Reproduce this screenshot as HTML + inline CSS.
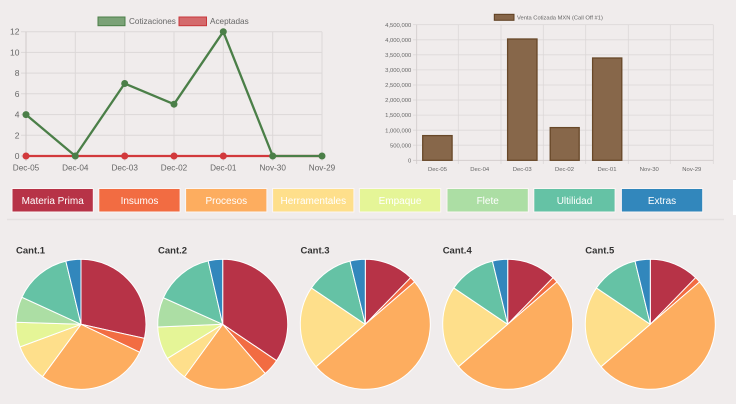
<!DOCTYPE html>
<html>
<head>
<meta charset="utf-8">
<style>
  html,body{margin:0;padding:0;background:#f0ecec;}
  body{width:736px;height:404px;overflow:hidden;}
  svg{display:block;font-family:"Liberation Sans",sans-serif;}
</style>
</head>
<body>
<svg width="736" height="404" viewBox="0 0 736 404" xmlns="http://www.w3.org/2000/svg">
  <rect width="736" height="404" fill="#f0ecec"/>

  <!-- ============ LINE CHART ============ -->
  <g stroke="#dcd8d8" stroke-width="1" fill="none">
    <line x1="21" y1="31.7" x2="322" y2="31.7"/>
    <line x1="21" y1="52.4" x2="322" y2="52.4"/>
    <line x1="21" y1="73.1" x2="322" y2="73.1"/>
    <line x1="21" y1="93.8" x2="322" y2="93.8"/>
    <line x1="21" y1="114.6" x2="322" y2="114.6"/>
    <line x1="21" y1="135.3" x2="322" y2="135.3"/>
    <line x1="75.3" y1="31.7" x2="75.3" y2="161"/>
    <line x1="124.7" y1="31.7" x2="124.7" y2="161"/>
    <line x1="174" y1="31.7" x2="174" y2="161"/>
    <line x1="223.3" y1="31.7" x2="223.3" y2="161"/>
    <line x1="272.7" y1="31.7" x2="272.7" y2="161"/>
    <line x1="322" y1="31.7" x2="322" y2="161"/>
  </g>
  <g stroke="#cfcaca" stroke-width="1">
    <line x1="26" y1="31.7" x2="26" y2="161"/>
    <line x1="21" y1="156" x2="322" y2="156"/>
  </g>
  <g font-size="8.5" fill="#666" text-anchor="end">
    <text x="19.5" y="34.7">12</text>
    <text x="19.5" y="55.4">10</text>
    <text x="19.5" y="76.1">8</text>
    <text x="19.5" y="96.8">6</text>
    <text x="19.5" y="117.6">4</text>
    <text x="19.5" y="138.3">2</text>
    <text x="19.5" y="159">0</text>
  </g>
  <g font-size="8.2" fill="#666" text-anchor="middle">
    <text x="26" y="170.7">Dec-05</text>
    <text x="75.3" y="170.7">Dec-04</text>
    <text x="124.7" y="170.7">Dec-03</text>
    <text x="174" y="170.7">Dec-02</text>
    <text x="223.3" y="170.7">Dec-01</text>
    <text x="272.7" y="170.7">Nov-30</text>
    <text x="322" y="170.7">Nov-29</text>
  </g>
  <rect x="98" y="17" width="27" height="8.7" fill="#7ba277" stroke="#4b7f48" stroke-width="1"/>
  <text x="129" y="24" font-size="8.2" fill="#666">Cotizaciones</text>
  <rect x="179" y="17" width="27.5" height="8.7" fill="#d46a6c" stroke="#c9373b" stroke-width="1"/>
  <text x="210" y="24" font-size="8.2" fill="#666">Aceptadas</text>
  <polyline points="26,156 75.3,156 124.7,156 174,156 223.3,156 272.7,156 322,156" fill="none" stroke="#d2393c" stroke-width="2.3"/>
  <g fill="#d2393c">
    <circle cx="26" cy="156" r="3.5"/>
    <circle cx="124.7" cy="156" r="3.5"/>
    <circle cx="174" cy="156" r="3.5"/>
    <circle cx="223.3" cy="156" r="3.5"/>
  </g>
  <polyline points="26,114.6 75.3,156 124.7,83.5 174,104.2 223.3,31.7 272.7,156 322,156" fill="none" stroke="#4b7f48" stroke-width="2.3" stroke-linejoin="round"/>
  <g fill="#4b7f48">
    <circle cx="26" cy="114.6" r="3.5"/>
    <circle cx="75.3" cy="156" r="3.5"/>
    <circle cx="124.7" cy="83.5" r="3.5"/>
    <circle cx="174" cy="104.2" r="3.5"/>
    <circle cx="223.3" cy="31.7" r="3.5"/>
    <circle cx="272.7" cy="156" r="3.5"/>
    <circle cx="322" cy="156" r="3.5"/>
  </g>

  <!-- ============ BAR CHART ============ -->
  <g stroke="#dcd8d8" stroke-width="0.8" fill="none">
    <line x1="413" y1="24.7" x2="713.3" y2="24.7"/>
    <line x1="413" y1="39.8" x2="713.3" y2="39.8"/>
    <line x1="413" y1="54.8" x2="713.3" y2="54.8"/>
    <line x1="413" y1="69.9" x2="713.3" y2="69.9"/>
    <line x1="413" y1="85" x2="713.3" y2="85"/>
    <line x1="413" y1="100" x2="713.3" y2="100"/>
    <line x1="413" y1="115.1" x2="713.3" y2="115.1"/>
    <line x1="413" y1="130.2" x2="713.3" y2="130.2"/>
    <line x1="413" y1="145.2" x2="713.3" y2="145.2"/>
    <line x1="458.3" y1="24.7" x2="458.3" y2="164"/>
    <line x1="501" y1="24.7" x2="501" y2="164"/>
    <line x1="543.3" y1="24.7" x2="543.3" y2="164"/>
    <line x1="585.7" y1="24.7" x2="585.7" y2="164"/>
    <line x1="628.3" y1="24.7" x2="628.3" y2="164"/>
    <line x1="670.3" y1="24.7" x2="670.3" y2="164"/>
    <line x1="713.3" y1="24.7" x2="713.3" y2="164"/>
  </g>
  <g stroke="#cfcaca" stroke-width="0.8">
    <line x1="416.7" y1="24.7" x2="416.7" y2="164"/>
    <line x1="413" y1="160.3" x2="713.3" y2="160.3"/>
  </g>
  <g font-size="5.9" fill="#666" text-anchor="end">
    <text x="411.3" y="26.8">4,500,000</text>
    <text x="411.3" y="41.9">4,000,000</text>
    <text x="411.3" y="56.9">3,500,000</text>
    <text x="411.3" y="72">3,000,000</text>
    <text x="411.3" y="87.1">2,500,000</text>
    <text x="411.3" y="102.1">2,000,000</text>
    <text x="411.3" y="117.2">1,500,000</text>
    <text x="411.3" y="132.3">1,000,000</text>
    <text x="411.3" y="147.3">500,000</text>
    <text x="411.3" y="162.4">0</text>
  </g>
  <g font-size="5.9" fill="#666" text-anchor="middle">
    <text x="437.5" y="170.8">Dec-05</text>
    <text x="479.7" y="170.8">Dec-04</text>
    <text x="522.2" y="170.8">Dec-03</text>
    <text x="564.5" y="170.8">Dec-02</text>
    <text x="607" y="170.8">Dec-01</text>
    <text x="649.3" y="170.8">Nov-30</text>
    <text x="691.8" y="170.8">Nov-29</text>
  </g>
  <g fill="#87674a" stroke="#684828" stroke-width="1.3">
    <rect x="422.7" y="135.6" width="29.4" height="24.7"/>
    <rect x="507.6" y="39" width="29.4" height="121.3"/>
    <rect x="550.2" y="127.6" width="29" height="32.7"/>
    <rect x="592.6" y="58" width="29.2" height="102.3"/>
  </g>
  <rect x="494.3" y="14.3" width="19.7" height="6" fill="#866548" stroke="#5e3f20" stroke-width="1"/>
  <text x="517" y="19.3" font-size="5.75" fill="#666">Venta Cotizada MXN (Call Off #1)</text>

  <!-- ============ BUTTONS ============ -->
  <g stroke="#fbf6f5" stroke-width="1">
    <rect x="12" y="188.5" width="81.3" height="23.5" fill="#b73347"/>
    <rect x="98.8" y="188.5" width="81.3" height="23.5" fill="#f26c42"/>
    <rect x="185.6" y="188.5" width="81.3" height="23.5" fill="#fdad5f"/>
    <rect x="272.6" y="188.5" width="81.3" height="23.5" fill="#fedf8b"/>
    <rect x="359.4" y="188.5" width="81.3" height="23.5" fill="#e5f597"/>
    <rect x="447" y="188.5" width="81.3" height="23.5" fill="#acdea4"/>
    <rect x="533.8" y="188.5" width="81.3" height="23.5" fill="#65c2a5"/>
    <rect x="621.4" y="188.5" width="81.3" height="23.5" fill="#3287bc"/>
  </g>
  <g font-size="10" fill="#ffffff" text-anchor="middle">
    <text x="52.7" y="203.9">Materia Prima</text>
    <text x="139.5" y="203.9">Insumos</text>
    <text x="226.3" y="203.9">Procesos</text>
    <text x="313.3" y="203.9">Herramentales</text>
    <text x="400" y="203.9">Empaque</text>
    <text x="487.7" y="203.9">Flete</text>
    <text x="574.5" y="203.9">Ultilidad</text>
    <text x="662" y="203.9">Extras</text>
  </g>
  <line x1="7" y1="219.5" x2="724" y2="219.5" stroke="#e4e0e0" stroke-width="1.5"/>
  <rect x="733" y="180" width="3" height="35" fill="#ffffff"/>

  <!-- ============ PIE CHARTS ============ -->
  <g font-size="9.5" font-weight="bold" fill="#333">
    <text x="16" y="253.5">Cant.1</text>
    <text x="158" y="253.5">Cant.2</text>
    <text x="300.5" y="253.5">Cant.3</text>
    <text x="442.7" y="253.5">Cant.4</text>
    <text x="585.3" y="253.5">Cant.5</text>
  </g>

  <g transform="translate(81,324.3)" stroke="#ffffff" stroke-width="1" stroke-linejoin="round">
    <path d="M0,0 L0,-65 A65,65 0 0 1 63.46,14.07 Z" fill="#b73347"/>
    <path d="M0,0 L63.46,14.07 A65,65 0 0 1 58.67,27.98 Z" fill="#f26c42"/>
    <path d="M0,0 L58.67,27.98 A65,65 0 0 1 -38.48,52.38 Z" fill="#fdad5f"/>
    <path d="M0,0 L-38.48,52.38 A65,65 0 0 1 -60.96,22.55 Z" fill="#fedf8b"/>
    <path d="M0,0 L-60.96,22.55 A65,65 0 0 1 -64.97,-2.04 Z" fill="#e5f597"/>
    <path d="M0,0 L-64.97,-2.04 A65,65 0 0 1 -59.10,-27.06 Z" fill="#acdea4"/>
    <path d="M0,0 L-59.10,-27.06 A65,65 0 0 1 -15.17,-63.20 Z" fill="#65c2a5"/>
    <path d="M0,0 L-15.17,-63.20 A65,65 0 0 1 0,-65 Z" fill="#3287bc"/>
  </g>

  <g transform="translate(222.7,324.3)" stroke="#ffffff" stroke-width="1" stroke-linejoin="round">
    <path d="M0,0 L0,-65 A65,65 0 0 1 53.89,36.35 Z" fill="#b73347"/>
    <path d="M0,0 L53.89,36.35 A65,65 0 0 1 42.47,49.21 Z" fill="#f26c42"/>
    <path d="M0,0 L42.47,49.21 A65,65 0 0 1 -38.21,52.59 Z" fill="#fdad5f"/>
    <path d="M0,0 L-38.21,52.59 A65,65 0 0 1 -55.30,34.16 Z" fill="#fedf8b"/>
    <path d="M0,0 L-55.30,34.16 A65,65 0 0 1 -64.94,2.72 Z" fill="#e5f597"/>
    <path d="M0,0 L-64.94,2.72 A65,65 0 0 1 -59.33,-26.54 Z" fill="#acdea4"/>
    <path d="M0,0 L-59.33,-26.54 A65,65 0 0 1 -14.51,-63.36 Z" fill="#65c2a5"/>
    <path d="M0,0 L-14.51,-63.36 A65,65 0 0 1 0,-65 Z" fill="#3287bc"/>
  </g>

  <defs>
    <g id="pie345" stroke="#ffffff" stroke-width="1" stroke-linejoin="round">
      <path d="M0,0 L0,-65 A65,65 0 0 1 45.32,-46.60 Z" fill="#b73347"/>
      <path d="M0,0 L45.32,-46.60 A65,65 0 0 1 49.28,-42.39 Z" fill="#f26c42"/>
      <path d="M0,0 L49.28,-42.39 A65,65 0 0 1 42.39,49.28 A65,65 0 0 1 -49.28,42.39 Z" fill="#fdad5f"/>
      <path d="M0,0 L-49.28,42.39 A65,65 0 0 1 -53.89,-36.35 Z" fill="#fedf8b"/>
      <path d="M0,0 L-53.89,-36.35 A65,65 0 0 1 -15.28,-63.18 Z" fill="#65c2a5"/>
      <path d="M0,0 L-15.28,-63.18 A65,65 0 0 1 0,-65 Z" fill="#3287bc"/>
    </g>
  </defs>
  <use href="#pie345" transform="translate(365.3,324.3)"/>
  <use href="#pie345" transform="translate(507.7,324.3)"/>
  <use href="#pie345" transform="translate(650.3,324.3)"/>
</svg>
</body>
</html>
